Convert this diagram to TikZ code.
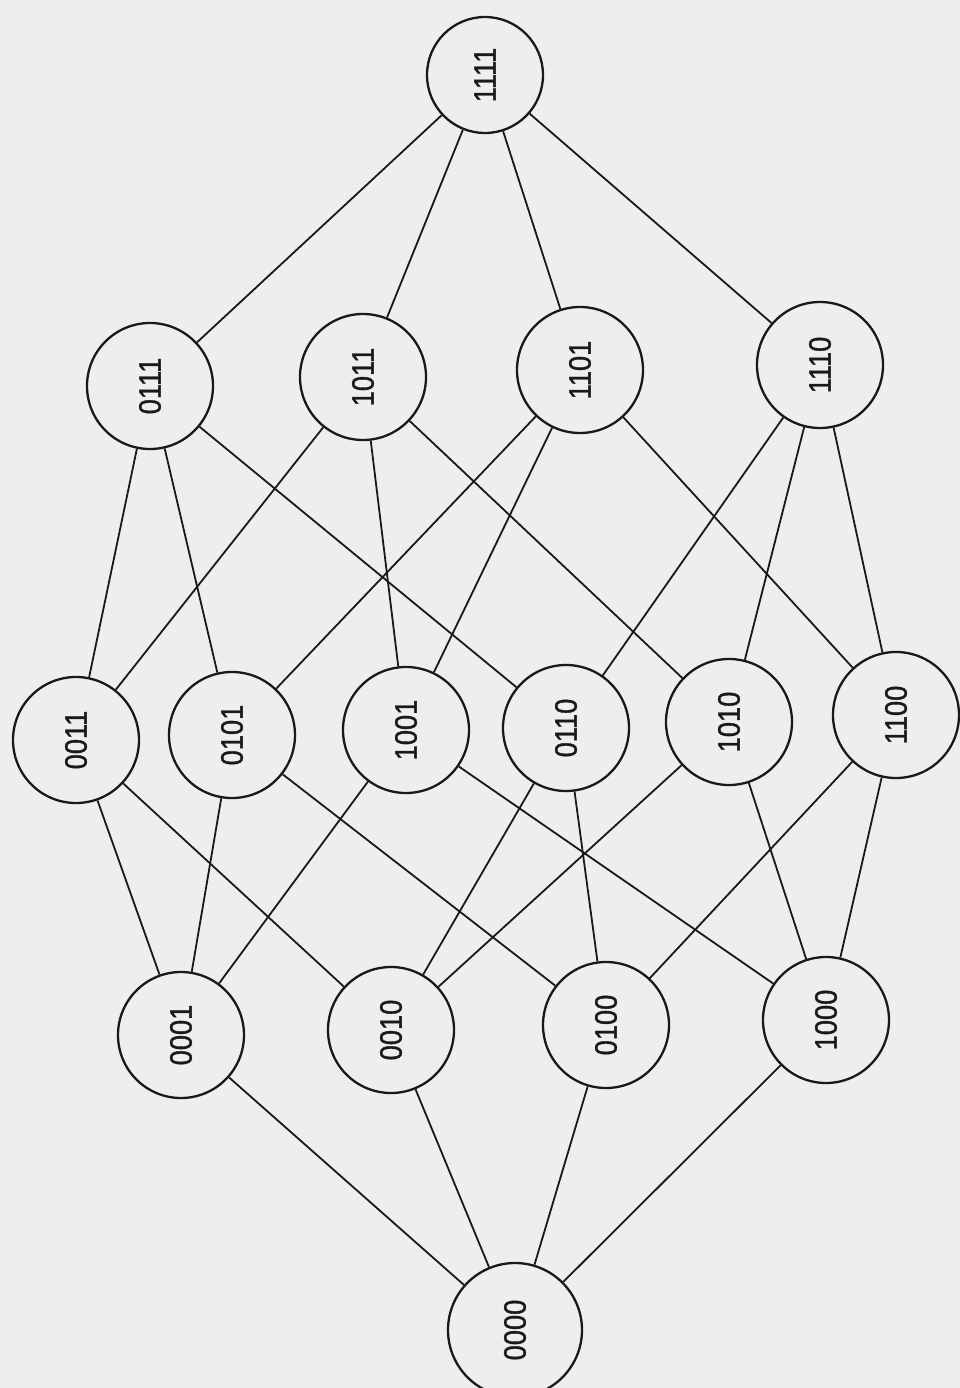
\documentclass[tikz,border=0pt]{standalone}
\usepackage{fontspec}
\setmainfont{Liberation Sans}
\newfontfamily\labfont{Liberation Sans}[FakeBold=1.2]
\definecolor{paper}{RGB}{238,238,236}
\definecolor{ink}{RGB}{25,25,25}
\begin{document}
\begin{tikzpicture}[x=1pt,y=-1pt,
  vtx/.style={draw=ink,circle,line width=2.3pt,minimum size=126pt,inner sep=0pt},
  lab/.style={rotate=90,font=\labfont\fontsize{31}{31}\selectfont,text=ink,inner sep=0pt},
  edge/.style={draw=ink,line width=1.8pt}]
\fill[paper] (0,0) rectangle (960,1388);
\useasboundingbox (0,0) rectangle (960,1388);
\node[vtx,minimum size=116pt] (n1111) at (485,75) {};
\node[vtx] (n0111) at (150,386) {};
\node[vtx] (n1011) at (363,377) {};
\node[vtx] (n1101) at (580,370) {};
\node[vtx] (n1110) at (820,365) {};
\node[vtx] (n0011) at (76,740) {};
\node[vtx] (n0101) at (232,735) {};
\node[vtx] (n1001) at (406,730) {};
\node[vtx] (n0110) at (566,728) {};
\node[vtx] (n1010) at (729,722) {};
\node[vtx] (n1100) at (896,715) {};
\node[vtx] (n0001) at (181,1035) {};
\node[vtx] (n0010) at (391,1030) {};
\node[vtx] (n0100) at (606,1025) {};
\node[vtx] (n1000) at (826,1020) {};
\node[vtx,minimum size=134pt] (n0000) at (515,1330) {};
\foreach \n in {1111,0111,1011,1101,1110,0011,0101,1001,0110,1010,1100,0001,0010,0100,1000,0000}
  \node[lab] (t\n) at (n\n) {\scalebox{0.88}[1]{\n}};
\foreach \a/\b in {1111/0111,1111/1011,1111/1101,1111/1110,
  0111/0011,0111/0101,0111/0110,
  1011/0011,1011/1001,1011/1010,
  1101/0101,1101/1001,1101/1100,
  1110/0110,1110/1010,1110/1100,
  0011/0001,0011/0010,
  0101/0001,0101/0100,
  1001/0001,1001/1000,
  0110/0010,0110/0100,
  1010/0010,1010/1000,
  1100/0100,1100/1000,
  0001/0000,0010/0000,0100/0000,1000/0000}
  \draw[edge] (n\a) -- (n\b);
\end{tikzpicture}
\end{document}
